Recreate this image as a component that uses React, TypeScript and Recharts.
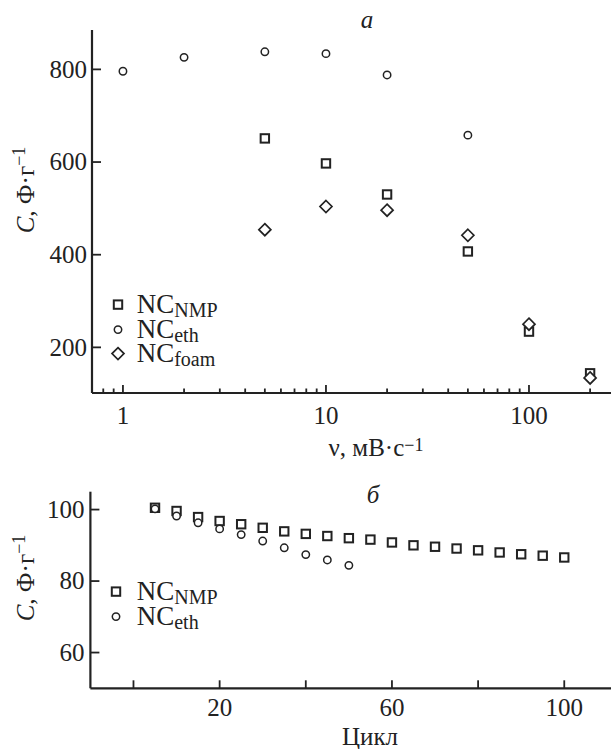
import React from 'react';
import { ScatterChart, Scatter, XAxis, YAxis, Label, Legend } from 'recharts';

const FONT = '"Liberation Serif", "Times New Roman", "DejaVu Serif", serif';
const INK = '#222';

// Panel a: capacitance vs scan rate
const rateEth = [1, 2, 5, 10, 20, 50];
const capEth = [796, 826, 838, 834, 788, 658];
const rateNmpFoam = [5, 10, 20, 50, 100, 200];
const capNmp = [651, 597, 530, 407, 234, 144];
const capFoam = [454, 504, 496, 442, 250, 134];
const rateTicks = [0.8, 0.9, 1, 2, 3, 4, 5, 6, 7, 8, 9, 10, 20, 30, 40, 50, 60, 70, 80, 90, 100, 200];
const rateLabeled = [1, 10, 100];
const capTicksA = [200, 400, 600, 800];

// Panel б: capacitance vs cycle
const cyclesNmp = [5, 10, 15, 20, 25, 30, 35, 40, 45, 50, 55, 60, 65, 70, 75, 80, 85, 90, 95, 100];
const capNmpCycle = [100.5, 99.6, 97.9, 96.8, 95.9, 94.9, 93.9, 93.2, 92.6, 92.0, 91.6, 90.8, 90.0, 89.6, 89.1, 88.6, 88.0, 87.5, 87.1, 86.6];
const cyclesEth = [5, 10, 15, 20, 25, 30, 35, 40, 45, 50];
const capEthCycle = [100.2, 98.2, 96.3, 94.6, 93.0, 91.2, 89.3, 87.4, 85.9, 84.4];
const cycleTicks = [0, 20, 40, 60, 80, 100];
const cycleLabeled = [20, 60, 100];
const capTicksB = [60, 80, 100];

const zip = (xs: number[], ys: number[]) => xs.map((x, i) => ({ x, y: ys[i] }));

const dataEthA = zip(rateEth, capEth);
const dataNmpA = zip(rateNmpFoam, capNmp);
const dataFoamA = zip(rateNmpFoam, capFoam);
const dataNmpB = zip(cyclesNmp, capNmpCycle);
const dataEthB = zip(cyclesEth, capEthCycle);

const SquareMark = ({ cx, cy }: any) => (
  <rect x={cx - 4.2} y={cy - 4.2} width={8.4} height={8.4} fill="#fff" stroke={INK} strokeWidth={2} />
);
const CircleMark = ({ cx, cy }: any) => (
  <circle cx={cx} cy={cy} r={3.7} fill="#fff" stroke={INK} strokeWidth={1.5} />
);
const DiamondMark = ({ cx, cy }: any) => (
  <path
    d={`M${cx},${cy - 6} L${cx + 6},${cy} L${cx},${cy + 6} L${cx - 6},${cy} Z`}
    fill="#fff"
    stroke={INK}
    strokeWidth={1.7}
  />
);

const makeXTick = (labeled: number[], majorLen: number, minorLen: number, dy: number) => (props: any) => {
  const { x, y, payload } = props;
  const v = payload.value;
  const major = labeled.includes(v);
  return (
    <g>
      <line x1={x} x2={x} y1={y} y2={y - (major ? majorLen : minorLen)} stroke={INK} strokeWidth={1.8} />
      {major && (
        <text x={x} y={y + dy} textAnchor="middle" fontFamily={FONT} fontSize={25} fill={INK}>
          {v}
        </text>
      )}
    </g>
  );
};

const makeYTick = (gap: number) => (props: any) => {
  const { x, y, payload } = props;
  return (
    <g>
      <line x1={x} x2={x + 9} y1={y} y2={y} stroke={INK} strokeWidth={1.8} />
      <text x={x - gap} y={y + 8.4} textAnchor="end" fontFamily={FONT} fontSize={25} fill={INK}>
        {payload.value}
      </text>
    </g>
  );
};

const yTitle = (cy: number) => () => (
  <text transform={`translate(34, ${cy}) rotate(-90)`} textAnchor="middle" fontFamily={FONT} fontSize={25} fill={INK}>
    <tspan fontStyle="italic">C</tspan>
    <tspan>, Ф·г</tspan>
    <tspan dy={-9} fontSize={18}>−1</tspan>
  </text>
);

const textAt = (x: number, y: number, content: React.ReactNode, italic = false) => () => (
  <text x={x} y={y} textAnchor="middle" fontFamily={FONT} fontSize={25} fill={INK} fontStyle={italic ? 'italic' : 'normal'}>
    {content}
  </text>
);

type LegendItem = { sub: string; mark: 'square' | 'circle' | 'diamond' };
const legendA: LegendItem[] = [
  { sub: 'NMP', mark: 'square' },
  { sub: 'eth', mark: 'circle' },
  { sub: 'foam', mark: 'diamond' },
];
const legendB: LegendItem[] = [
  { sub: 'NMP', mark: 'square' },
  { sub: 'eth', mark: 'circle' },
];

const makeLegend = (items: LegendItem[], rowH: number, textLeft: number) => () => (
  <div style={{ fontFamily: FONT, color: INK, width: 140 }}>
    {items.map((it) => (
      <div key={it.sub} style={{ position: 'relative', height: rowH, fontSize: 27, whiteSpace: 'nowrap' }}>
        <svg width={18} height={rowH} style={{ position: 'absolute', left: 0, top: 0 }}>
          {it.mark === 'square' && <SquareMark cx={9} cy={12.6} />}
          {it.mark === 'circle' && <CircleMark cx={9} cy={12.6} />}
          {it.mark === 'diamond' && <DiamondMark cx={9} cy={12.6} />}
        </svg>
        <div style={{ position: 'absolute', left: textLeft, top: 0, height: rowH, display: 'flex', alignItems: 'flex-start' }}>
          <span style={{ fontSize: 27, lineHeight: `${rowH}px`, display: 'block', height: rowH }}>NC</span>
          <span style={{ fontSize: 20, lineHeight: '20px', display: 'block', marginTop: 8, height: 20 }}>{it.sub}</span>
        </div>
      </div>
    ))}
  </div>
);

export default function App() {
  return (
    <div style={{ position: 'absolute', left: 0, top: 0, width: 611, height: 749, background: '#fff' }}>
      <div style={{ position: 'absolute', left: 0, top: 0 }}>
        <ScatterChart width={611} height={460} margin={{ top: 30, right: 0, bottom: 0, left: 0 }}>
          <XAxis
            type="number"
            dataKey="x"
            scale="log"
            domain={[0.704, 253.5]}
            allowDataOverflow
            ticks={rateTicks}
            interval={0}
            height={67}
            tickSize={0}
            tickMargin={0}
            tickLine={false}
            axisLine={{ stroke: INK, strokeWidth: 2.2 }}
            tick={makeXTick(rateLabeled, 8, 4.5, 31)}
          >
            <Label content={textAt(376, 456, <>ν, мВ·с<tspan dy={-5} fontSize={18}>−1</tspan></>)} />
            <Label content={textAt(367, 28, 'a', true)} />
          </XAxis>
          <YAxis
            type="number"
            dataKey="y"
            domain={[101.5, 885]}
            allowDataOverflow
            ticks={capTicksA}
            interval={0}
            width={92}
            tickSize={0}
            tickMargin={0}
            tickLine={false}
            axisLine={{ stroke: INK, strokeWidth: 2.2 }}
            tick={makeYTick(5)}
          >
            <Label content={yTitle(190)} />
          </YAxis>
          <Legend
            layout="vertical"
            align="center"
            verticalAlign="middle"
            content={makeLegend(legendA, 24.7, 28)}
            wrapperStyle={{ left: 108.7, top: 292, width: 150 }}
          />
          <Scatter name="NC_NMP" data={dataNmpA} shape={SquareMark} isAnimationActive={false} />
          <Scatter name="NC_eth" data={dataEthA} shape={CircleMark} isAnimationActive={false} />
          <Scatter name="NC_foam" data={dataFoamA} shape={DiamondMark} isAnimationActive={false} />
        </ScatterChart>
      </div>
      <div style={{ position: 'absolute', left: 0, top: 460 }}>
        <ScatterChart width={611} height={289} margin={{ top: 31.7, right: 0, bottom: 0, left: 0 }}>
          <XAxis
            type="number"
            dataKey="x"
            domain={[-10, 110.85]}
            allowDataOverflow
            ticks={cycleTicks}
            interval={0}
            height={60.7}
            tickSize={0}
            tickMargin={0}
            tickLine={false}
            axisLine={{ stroke: INK, strokeWidth: 2.2 }}
            tick={makeXTick(cycleLabeled, 8, 8, 28)}
          >
            <Label content={textAt(370, 285, 'Цикл')} />
            <Label content={textAt(373, 43, 'б', true)} />
          </XAxis>
          <YAxis
            type="number"
            dataKey="y"
            domain={[50, 105]}
            allowDataOverflow
            ticks={capTicksB}
            interval={0}
            width={90.4}
            tickSize={0}
            tickMargin={0}
            tickLine={false}
            axisLine={{ stroke: INK, strokeWidth: 2.2 }}
            tick={makeYTick(6)}
          >
            <Label content={yTitle(118)} />
          </YAxis>
          <Legend
            layout="vertical"
            align="center"
            verticalAlign="middle"
            content={makeLegend(legendB, 25, 29.7)}
            wrapperStyle={{ left: 107, top: 118.5, width: 150 }}
          />
          <Scatter name="NC_NMP" data={dataNmpB} shape={SquareMark} isAnimationActive={false} />
          <Scatter name="NC_eth" data={dataEthB} shape={CircleMark} isAnimationActive={false} />
        </ScatterChart>
      </div>
    </div>
  );
}
